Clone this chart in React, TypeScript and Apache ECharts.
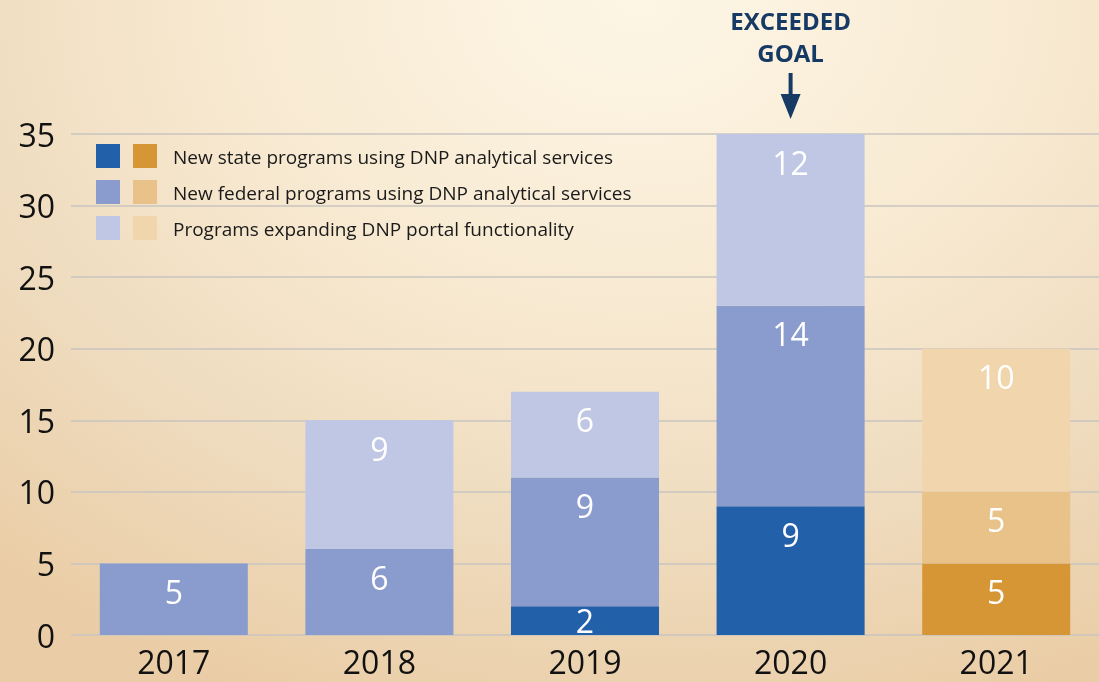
import React, { useEffect, useRef } from "react";
import * as echarts from "echarts";

const years = ["2017", "2018", "2019", "2020", "2021"];
const stateValues: (number | null)[] = [null, null, 2, 9, 5];
const federalValues: (number | null)[] = [5, 6, 9, 14, 5];
const portalValues: (number | null)[] = [null, 9, 6, 12, 10];
const projectedYears = ["2021"];
const seriesNames = [
  "New state programs using DNP analytical services",
  "New federal programs using DNP analytical services",
  "Programs expanding DNP portal functionality",
];
const yTicks = { min: 0, max: 35, interval: 5 };
const goalYear = "2020";
const goalText = ["EXCEEDED", "GOAL"];

const BLUES = ["#2360aa", "#8a9bcd", "#bfc7e4"];
const ORANGES = ["#d79636", "#e8c288", "#f1d5ac"];
const FONT = "'Open Sans', 'Noto Sans', sans-serif";

export default function App() {
  const ref = useRef<HTMLDivElement>(null);
  useEffect(() => {
    if (!ref.current) return;
    const chart = echarts.init(ref.current, undefined, { renderer: "svg" });
    const allValues = [stateValues, federalValues, portalValues];

    const series = allValues.map((vals, k) => ({
      name: seriesNames[k],
      type: "bar",
      stack: "total",
      barCategoryGap: "28%",
      data: vals.map((v, i) => {
        if (v == null) return null;
        const projected = projectedYears.includes(years[i]);
        return {
          value: v,
          itemStyle: { color: projected ? ORANGES[k] : BLUES[k] },
          label: v < 3 ? { position: "inside" } : undefined,
        };
      }),
      label: {
        show: true,
        position: "insideTop",
        distance: 12,
        color: "#ffffff",
        fontSize: 32,
        fontFamily: FONT,
      },
    }));

    const option: any = {
      animation: false,
      backgroundColor: "transparent",
      grid: { left: 71, right: -2, top: 134, bottom: 47, containLabel: false },
      xAxis: {
        type: "category",
        data: years,
        axisLine: { show: false },
        axisTick: { show: false },
        axisLabel: { color: "#111", fontSize: 32, fontFamily: FONT, margin: 10 },
      },
      yAxis: {
        type: "value",
        min: yTicks.min,
        max: yTicks.max,
        interval: yTicks.interval,
        axisLine: { show: false },
        axisTick: { show: false },
        axisLabel: { color: "#111", fontSize: 32, fontFamily: FONT, margin: 16 },
        splitLine: { lineStyle: { color: "#c8c5c0", width: 1.5 } },
      },
      series,
    };
    chart.setOption(option);

    const [gx, gy] = chart.convertToPixel({ xAxisIndex: 0, yAxisIndex: 0 }, [goalYear, yTicks.max]) as number[];

    const legendItems: any[] = [];
    seriesNames.forEach((name, k) => {
      const top = 144 + k * 36;
      legendItems.push(
        { type: "rect", shape: { x: 96, y: top, width: 24, height: 24 }, style: { fill: BLUES[k] } },
        { type: "rect", shape: { x: 133, y: top, width: 24, height: 24 }, style: { fill: ORANGES[k] } },
        {
          type: "text",
          x: 173,
          y: top + 13,
          style: { text: name, fill: "#1a1a1a", fontSize: 19, fontFamily: FONT, verticalAlign: "middle" },
        }
      );
    });

    const goalStyle = {
      fill: "#173a64",
      fontSize: 24,
      fontWeight: "bold",
      fontFamily: FONT,
      align: "center",
      verticalAlign: "middle",
    };

    chart.setOption({
      graphic: [
        ...legendItems,
        { type: "text", x: gx, y: gy - 114, style: { text: goalText[0], ...goalStyle } },
        { type: "text", x: gx, y: gy - 82, style: { text: goalText[1], ...goalStyle } },
        {
          type: "line",
          shape: { x1: gx, y1: gy - 61, x2: gx, y2: gy - 36 },
          style: { stroke: "#173a64", lineWidth: 4 },
        },
        {
          type: "polygon",
          shape: { points: [[gx - 10, gy - 40], [gx + 10, gy - 40], [gx, gy - 15]] },
          style: { fill: "#173a64" },
        },
      ],
    });

    return () => chart.dispose();
  }, []);

  return (
    <div
      style={{
        position: "fixed",
        left: 0,
        top: 0,
        width: 1099,
        height: 682,
        background:
          "radial-gradient(ellipse 90% 110% at 58% 0%, #fdf6e6 0%, #f8ead2 40%, #efdcbf 70%, #eacda6 100%)",
      }}
    >
      <div ref={ref} style={{ width: 1099, height: 682 }} />
    </div>
  );
}
